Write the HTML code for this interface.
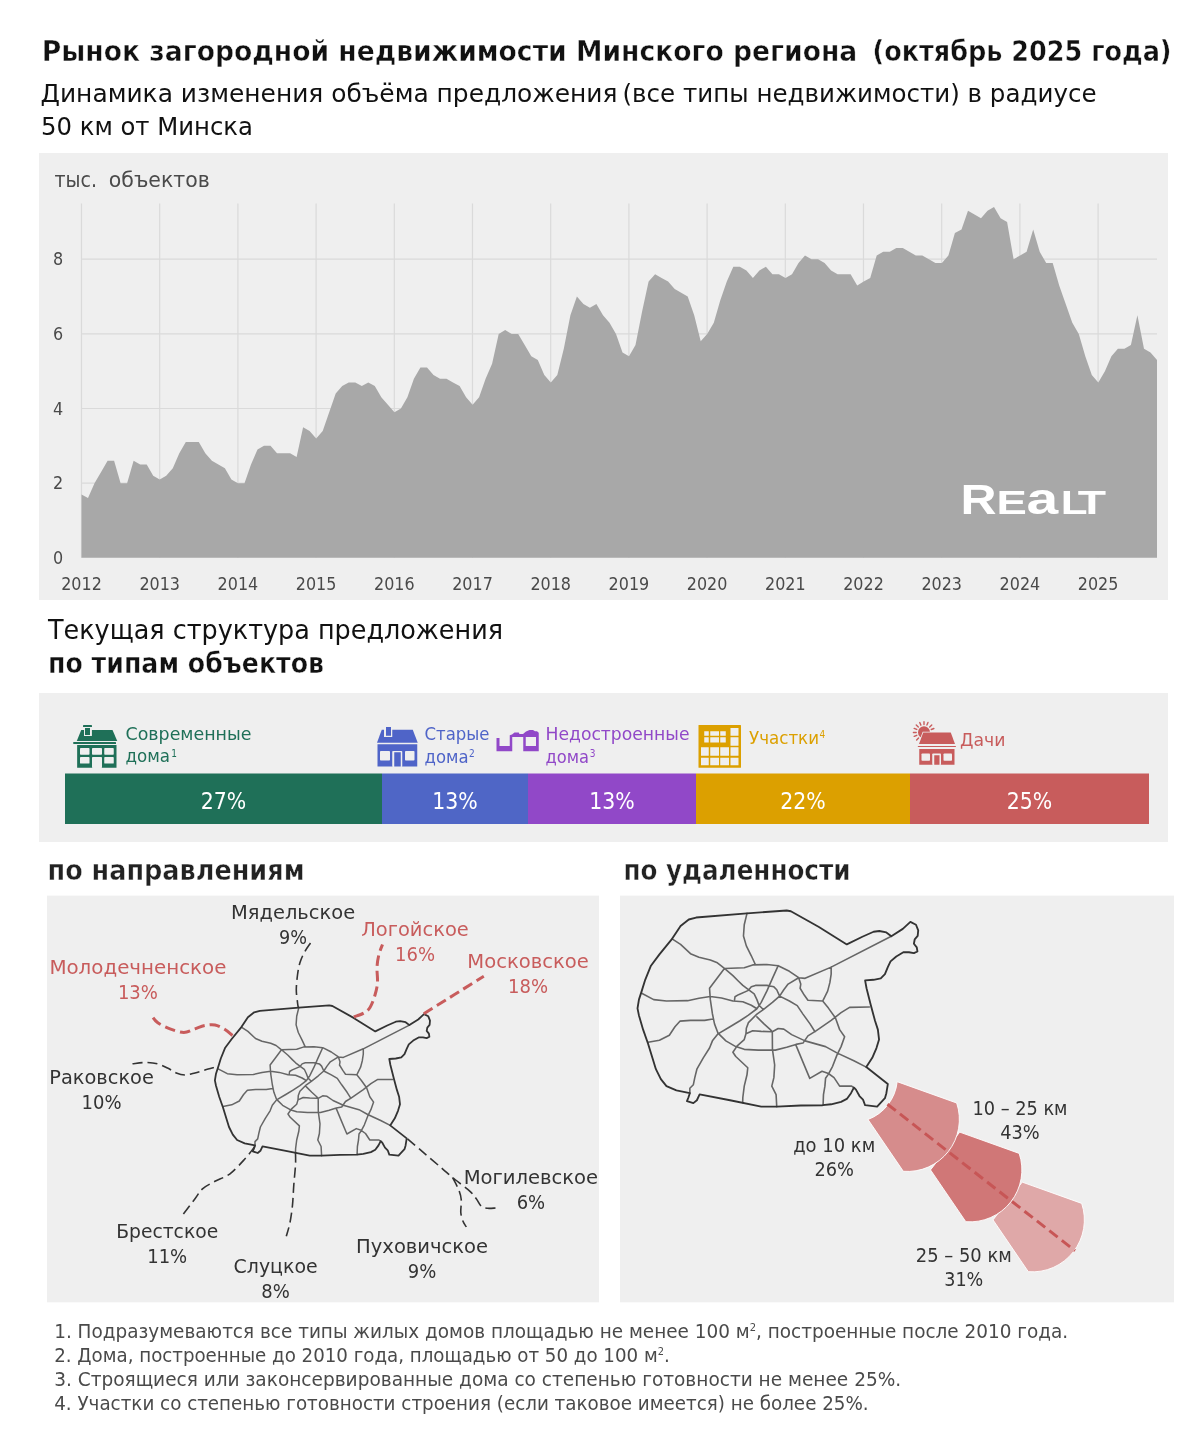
<!DOCTYPE html>
<html lang="ru"><head><meta charset="utf-8"><title>Рынок загородной недвижимости Минского региона</title>
<style>html,body{margin:0;padding:0;background:#fff}svg{display:block}</style></head>
<body>
<svg width="1200" height="1438" viewBox="0 0 1200 1438" font-family='&quot;DejaVu Sans Condensed&quot;, &quot;DejaVu Sans&quot;, &quot;Liberation Sans&quot;, sans-serif'>
<rect width="1200" height="1438" fill="#fff"/>
<text x="41.8" y="60.6" font-size="27.8" fill="#111" font-weight="bold" textLength="815.5" lengthAdjust="spacingAndGlyphs" stroke="#fff" stroke-width="0.4">Рынок загородной недвижимости Минского региона</text>
<text x="872.5" y="60.6" font-size="27.8" fill="#111" font-weight="bold" textLength="299" lengthAdjust="spacingAndGlyphs" stroke="#fff" stroke-width="0.4">(октябрь 2025 года)</text>
<text x="40.5" y="102" font-size="25.5" fill="#111" textLength="577" lengthAdjust="spacingAndGlyphs">Динамика изменения объёма предложения</text>
<text x="622.5" y="102" font-size="25.5" fill="#111" textLength="474" lengthAdjust="spacingAndGlyphs">(все типы недвижимости) в радиусе</text>
<text x="41" y="134.5" font-size="25.5" fill="#111" textLength="212" lengthAdjust="spacingAndGlyphs">50 км от Минска</text>
<rect x="39" y="153" width="1129" height="447" fill="#efefef"/>
<path d="M81.5 203.5V557.8 M159.7 203.5V557.8 M237.9 203.5V557.8 M316.1 203.5V557.8 M394.3 203.5V557.8 M472.5 203.5V557.8 M550.7 203.5V557.8 M628.9 203.5V557.8 M707.1 203.5V557.8 M785.3 203.5V557.8 M863.5 203.5V557.8 M941.7 203.5V557.8 M1019.9 203.5V557.8 M1098.1 203.5V557.8 M81.5 483.2H1157 M81.5 408.5H1157 M81.5 333.9H1157 M81.5 259.2H1157" stroke="#dadada" stroke-width="1.2" fill="none"/>
<path d="M81.5 557.8 L81.5 494.4 L88.0 498.1 L94.5 483.2 L101.1 472.0 L107.6 460.8 L114.1 460.8 L120.6 483.2 L127.1 483.2 L133.6 460.8 L140.2 464.5 L146.7 464.5 L153.2 475.7 L159.7 479.4 L166.2 475.7 L172.8 468.2 L179.3 453.3 L185.8 442.1 L192.3 442.1 L198.8 442.1 L205.3 453.3 L211.9 460.8 L218.4 464.5 L224.9 468.2 L231.4 479.4 L237.9 483.2 L244.5 483.2 L251.0 464.5 L257.5 449.6 L264.0 445.8 L270.5 445.8 L277.0 453.3 L283.6 453.3 L290.1 453.3 L296.6 457.0 L303.1 427.2 L309.6 430.9 L316.2 438.4 L322.7 430.9 L329.2 412.3 L335.7 393.6 L342.2 386.1 L348.7 382.4 L355.3 382.4 L361.8 386.1 L368.3 382.4 L374.8 386.1 L381.3 397.3 L387.9 404.8 L394.4 412.3 L400.9 408.5 L407.4 397.3 L413.9 378.7 L420.4 367.5 L427.0 367.5 L433.5 374.9 L440.0 378.7 L446.5 378.7 L453.0 382.4 L459.6 386.1 L466.1 397.3 L472.6 404.8 L479.1 397.3 L485.6 378.7 L492.1 363.7 L498.7 333.9 L505.2 330.1 L511.7 333.9 L518.2 333.9 L524.7 345.1 L531.3 356.3 L537.8 360.0 L544.3 374.9 L550.8 382.4 L557.3 374.9 L563.8 348.8 L570.4 315.2 L576.9 296.6 L583.4 304.0 L589.9 307.8 L596.4 304.0 L603.0 315.2 L609.5 322.7 L616.0 333.9 L622.5 352.5 L629.0 356.3 L635.5 345.1 L642.1 311.5 L648.6 281.6 L655.1 274.2 L661.6 277.9 L668.1 281.6 L674.7 289.1 L681.2 292.8 L687.7 296.6 L694.2 315.2 L700.7 341.3 L707.2 333.9 L713.8 322.7 L720.3 300.3 L726.8 281.6 L733.3 266.7 L739.8 266.7 L746.4 270.4 L752.9 277.9 L759.4 270.4 L765.9 266.7 L772.4 274.2 L778.9 274.2 L785.5 277.9 L792.0 274.2 L798.5 263.0 L805.0 255.5 L811.5 259.2 L818.1 259.2 L824.6 263.0 L831.1 270.4 L837.6 274.2 L844.1 274.2 L850.6 274.2 L857.2 285.4 L863.7 281.6 L870.2 277.9 L876.7 255.5 L883.2 251.8 L889.8 251.8 L896.3 248.0 L902.8 248.0 L909.3 251.8 L915.8 255.5 L922.3 255.5 L928.9 259.2 L935.4 263.0 L941.9 263.0 L948.4 255.5 L954.9 233.1 L961.5 229.4 L968.0 210.7 L974.5 214.5 L981.0 218.2 L987.5 210.7 L994.0 207.0 L1000.6 218.2 L1007.1 221.9 L1013.6 259.2 L1020.1 255.5 L1026.6 251.8 L1033.2 229.4 L1039.7 251.8 L1046.2 263.0 L1052.7 263.0 L1059.2 285.4 L1065.7 304.0 L1072.3 322.7 L1078.8 333.9 L1085.3 356.3 L1091.8 374.9 L1098.3 382.4 L1104.9 371.2 L1111.4 356.3 L1117.9 348.8 L1124.4 348.8 L1130.9 345.1 L1137.4 315.2 L1144.0 348.8 L1150.5 352.5 L1157.0 360.0 L1157.0 557.8Z" fill="#a8a8a8"/>
<text x="54.5" y="186.7" font-size="22" fill="#4a4a4a" textLength="42.5" lengthAdjust="spacingAndGlyphs">тыс.</text>
<text x="108.8" y="186.7" font-size="22" fill="#4a4a4a" textLength="101" lengthAdjust="spacingAndGlyphs">объектов</text>
<text x="53" y="563.9" font-size="17.8" fill="#4a4a4a">0</text>
<text x="53" y="489.26" font-size="17.8" fill="#4a4a4a">2</text>
<text x="53" y="414.62" font-size="17.8" fill="#4a4a4a">4</text>
<text x="53" y="339.97999999999996" font-size="17.8" fill="#4a4a4a">6</text>
<text x="53" y="265.34" font-size="17.8" fill="#4a4a4a">8</text>
<text x="81.5" y="590" font-size="17.8" fill="#4a4a4a" text-anchor="middle" textLength="40.6" lengthAdjust="spacingAndGlyphs">2012</text>
<text x="159.7" y="590" font-size="17.8" fill="#4a4a4a" text-anchor="middle" textLength="40.6" lengthAdjust="spacingAndGlyphs">2013</text>
<text x="237.9" y="590" font-size="17.8" fill="#4a4a4a" text-anchor="middle" textLength="40.6" lengthAdjust="spacingAndGlyphs">2014</text>
<text x="316.1" y="590" font-size="17.8" fill="#4a4a4a" text-anchor="middle" textLength="40.6" lengthAdjust="spacingAndGlyphs">2015</text>
<text x="394.3" y="590" font-size="17.8" fill="#4a4a4a" text-anchor="middle" textLength="40.6" lengthAdjust="spacingAndGlyphs">2016</text>
<text x="472.5" y="590" font-size="17.8" fill="#4a4a4a" text-anchor="middle" textLength="40.6" lengthAdjust="spacingAndGlyphs">2017</text>
<text x="550.7" y="590" font-size="17.8" fill="#4a4a4a" text-anchor="middle" textLength="40.6" lengthAdjust="spacingAndGlyphs">2018</text>
<text x="628.9" y="590" font-size="17.8" fill="#4a4a4a" text-anchor="middle" textLength="40.6" lengthAdjust="spacingAndGlyphs">2019</text>
<text x="707.1" y="590" font-size="17.8" fill="#4a4a4a" text-anchor="middle" textLength="40.6" lengthAdjust="spacingAndGlyphs">2020</text>
<text x="785.3000000000001" y="590" font-size="17.8" fill="#4a4a4a" text-anchor="middle" textLength="40.6" lengthAdjust="spacingAndGlyphs">2021</text>
<text x="863.5" y="590" font-size="17.8" fill="#4a4a4a" text-anchor="middle" textLength="40.6" lengthAdjust="spacingAndGlyphs">2022</text>
<text x="941.7" y="590" font-size="17.8" fill="#4a4a4a" text-anchor="middle" textLength="40.6" lengthAdjust="spacingAndGlyphs">2023</text>
<text x="1019.9000000000001" y="590" font-size="17.8" fill="#4a4a4a" text-anchor="middle" textLength="40.6" lengthAdjust="spacingAndGlyphs">2024</text>
<text x="1098.1" y="590" font-size="17.8" fill="#4a4a4a" text-anchor="middle" textLength="40.6" lengthAdjust="spacingAndGlyphs">2025</text>
<g fill="#fff" font-family="&quot;Liberation Sans&quot;, sans-serif" font-weight="bold">
<text transform="translate(960.6 514) scale(1.18 1)" font-size="42.3">R</text>
<text transform="translate(996.6 514) scale(1.4 1)" font-size="32.5">E</text>
<text transform="translate(1026.6 514) scale(1.31 1)" font-size="43.5">a</text>
<text transform="translate(1060.8 514) scale(1.35 1)" font-size="32.5">L</text>
<text transform="translate(1077.7 514) scale(1.425 1)" font-size="32.5">T</text>
</g>
<text x="48" y="639" font-size="26.5" fill="#111" textLength="455" lengthAdjust="spacingAndGlyphs">Текущая структура предложения</text>
<text x="48" y="672.8" font-size="27.6" fill="#111" font-weight="bold" textLength="276" lengthAdjust="spacingAndGlyphs" stroke="#fff" stroke-width="0.4">по типам объектов</text>
<rect x="39" y="693" width="1129" height="149" fill="#efefef"/>
<rect x="65" y="773.5" width="317" height="50.5" fill="#1f7058"/>
<text x="223.5" y="808.7" font-size="23" fill="#fff" text-anchor="middle" textLength="45.5" lengthAdjust="spacingAndGlyphs">27%</text>
<rect x="382" y="773.5" width="146" height="50.5" fill="#4f66c6"/>
<text x="455.0" y="808.7" font-size="23" fill="#fff" text-anchor="middle" textLength="45.5" lengthAdjust="spacingAndGlyphs">13%</text>
<rect x="528" y="773.5" width="168" height="50.5" fill="#9148c8"/>
<text x="612.0" y="808.7" font-size="23" fill="#fff" text-anchor="middle" textLength="45.5" lengthAdjust="spacingAndGlyphs">13%</text>
<rect x="696" y="773.5" width="214" height="50.5" fill="#dca000"/>
<text x="803.0" y="808.7" font-size="23" fill="#fff" text-anchor="middle" textLength="45.5" lengthAdjust="spacingAndGlyphs">22%</text>
<rect x="910" y="773.5" width="239" height="50.5" fill="#c85c5c"/>
<text x="1029.5" y="808.7" font-size="23" fill="#fff" text-anchor="middle" textLength="45.5" lengthAdjust="spacingAndGlyphs">25%</text>
<g>
<rect x="83" y="725" width="9" height="2" fill="#1f7058" rx="0.6"/>
<path d="M81.25 730H112.5L117.25 741H76.75Z" fill="#1f7058"/>
<rect x="84" y="727.6" width="7.9" height="8.4" fill="#efefef"/>
<rect x="85" y="728" width="5" height="7" fill="#1f7058"/>
<rect x="73.25" y="742" width="42.75" height="2" fill="#1f7058" rx="0.6"/>
<rect x="77.15" y="745" width="39.35" height="22.75" fill="#1f7058"/>
<rect x="80" y="748" width="9.5" height="6.75" fill="#efefef" rx="0.7"/>
<rect x="92" y="748" width="10" height="6.75" fill="#efefef" rx="0.7"/>
<rect x="104.25" y="748" width="9.5" height="6.75" fill="#efefef" rx="0.7"/>
<rect x="80" y="757" width="9.5" height="6.6" fill="#efefef" rx="0.7"/>
<rect x="104.25" y="757" width="9.5" height="6.6" fill="#efefef" rx="0.7"/>
<rect x="92" y="757" width="10" height="11" fill="#efefef" rx="0.7"/>
</g>
<g>
<path d="M381.75 729.75H412.75L417.75 742.75H377Z" fill="#4f64c8"/>
<rect x="384" y="726" width="8.25" height="11" fill="#efefef"/>
<rect x="386" y="727" width="5" height="8.75" fill="#4f64c8"/>
<rect x="377.5" y="744.25" width="39.75" height="22.25" fill="#4f64c8"/>
<rect x="380" y="751" width="10" height="9.5" fill="#efefef" rx="0.8"/>
<rect x="405" y="751" width="9.5" height="9.5" fill="#efefef" rx="0.8"/>
<rect x="392.25" y="751" width="10.0" height="16" fill="#efefef" rx="0.8"/>
<rect x="394.25" y="752.25" width="6.5" height="14.25" fill="#4f64c8"/>
</g>
<path fill-rule="evenodd" d="M496.5 738H499.5V746H509.75V735.25L512 734.5L514.5 732.5H518.75L519.5 734H523L526 731.5L529.5 730H533L535 731.25H537L538.75 732.75V751.25H523.25V737H512.25V751.25H496.5ZM525.75 737H536V746H525.75Z" fill="#9148c8"/>
<g>
<rect x="698.5" y="725" width="42.5" height="42.75" fill="#dca000" rx="0.6"/>
<rect x="701" y="747.25" width="7.75" height="8.5" fill="#efefef"/>
<rect x="701" y="757.75" width="7.75" height="7.5" fill="#efefef"/>
<rect x="710.25" y="747.25" width="8.75" height="8.5" fill="#efefef"/>
<rect x="710.25" y="757.75" width="8.75" height="7.5" fill="#efefef"/>
<rect x="720.25" y="747.25" width="8.75" height="8.5" fill="#efefef"/>
<rect x="720.25" y="757.75" width="8.75" height="7.5" fill="#efefef"/>
<rect x="730.5" y="747.25" width="8.0" height="8.5" fill="#efefef"/>
<rect x="730.5" y="757.75" width="8.0" height="7.5" fill="#efefef"/>
<rect x="730.5" y="728" width="8.0" height="7.75" fill="#efefef"/>
<rect x="730.5" y="737.25" width="8.0" height="8.5" fill="#efefef"/>
<rect x="704.25" y="731.25" width="4.5" height="4.5" fill="#efefef"/>
<rect x="704.25" y="737.25" width="4.5" height="5.25" fill="#efefef"/>
<rect x="710.25" y="731.25" width="8.75" height="4.5" fill="#efefef"/>
<rect x="710.25" y="737.25" width="8.75" height="5.25" fill="#efefef"/>
<rect x="720.25" y="731.25" width="5.5" height="4.5" fill="#efefef"/>
<rect x="720.25" y="737.25" width="5.5" height="5.25" fill="#efefef"/>
</g>
<g>
<circle cx="924" cy="732.3" r="6" fill="#c85c5c"/>
<path d="M918.58 737.91L916.64 739.93 M916.79 735.28L914.21 736.36 M916.20 732.44L913.40 732.48 M916.74 729.44L914.14 728.42 M918.30 726.98L916.25 725.07 M920.89 725.15L919.77 722.58 M924.00 724.50L924.00 721.70 M926.92 725.07L927.97 722.47 M929.70 726.98L931.75 725.07 M931.28 729.50L933.90 728.50" stroke="#c85c5c" stroke-width="1.4" stroke-linecap="round" fill="none"/>
<path d="M923.25 732.5H950.75L955 744H919Z" fill="#c85c5c" stroke="#efefef" stroke-width="1.6" paint-order="stroke"/>
<rect x="917.75" y="745.9" width="38.25" height="1.2" fill="#c85c5c" rx="0.6"/>
<rect x="919.25" y="749" width="35.25" height="15.75" fill="#c85c5c"/>
<rect x="921.5" y="753.5" width="8.5" height="7.25" fill="#efefef" rx="0.8"/>
<rect x="943.5" y="753.5" width="8.5" height="7.25" fill="#efefef" rx="0.8"/>
<rect x="932.25" y="753.5" width="8.75" height="11.5" fill="#efefef" rx="0.8"/>
<rect x="934.25" y="755.25" width="5.25" height="9.5" fill="#c85c5c"/>
</g>
<text x="125.5" y="740.2" font-size="18.2" fill="#1f7058" textLength="126" lengthAdjust="spacingAndGlyphs">Современные</text>
<text x="125.5" y="762" font-size="18.2" fill="#1f7058" textLength="44.5" lengthAdjust="spacingAndGlyphs">дома</text>
<text x="171.3" y="756.6" font-size="10" fill="#1f7058">1</text>
<text x="424.5" y="739.5" font-size="18.2" fill="#4f64c8" textLength="65" lengthAdjust="spacingAndGlyphs">Старые</text>
<text x="424.5" y="762.5" font-size="18.2" fill="#4f64c8" textLength="44" lengthAdjust="spacingAndGlyphs">дома</text>
<text x="469" y="757" font-size="10" fill="#4f64c8">2</text>
<text x="545.5" y="739.5" font-size="18.2" fill="#9148c8" textLength="144" lengthAdjust="spacingAndGlyphs">Недостроенные</text>
<text x="545.5" y="762.5" font-size="18.2" fill="#9148c8" textLength="43.5" lengthAdjust="spacingAndGlyphs">дома</text>
<text x="589.8" y="757" font-size="10" fill="#9148c8">3</text>
<text x="749" y="743.7" font-size="18.2" fill="#dca000" textLength="70" lengthAdjust="spacingAndGlyphs">Участки</text>
<text x="819.6" y="738.2" font-size="10" fill="#dca000">4</text>
<text x="960" y="746" font-size="18.2" fill="#c85c5c" textLength="45.5" lengthAdjust="spacingAndGlyphs">Дачи</text>
<text x="47.5" y="879.5" font-size="27.6" fill="#222" font-weight="bold" textLength="257" lengthAdjust="spacingAndGlyphs" stroke="#fff" stroke-width="0.4">по направлениям</text>
<text x="623.5" y="879.5" font-size="27.6" fill="#222" font-weight="bold" textLength="227" lengthAdjust="spacingAndGlyphs" stroke="#fff" stroke-width="0.4">по удаленности</text>
<rect x="47" y="895.6" width="552" height="406.7" fill="#efefef"/>
<rect x="620" y="895.6" width="554" height="406.7" fill="#efefef"/>
<g fill="none" stroke-linejoin="round" stroke-linecap="round">
<path d="M241.4 1027.1 L247.9 1031.4 L255.5 1038.5 L262.0 1041.2 L270.7 1043.3 L276.1 1045.5 L281.5 1049.8 L288.0 1055.3 L292.3 1059.6 L295.6 1062.8 L299.9 1066.1 L304.3 1069.3 L306.4 1073.7 L308.0 1078.0 L311.3 1081.3 M298.8 1007.6 L296.7 1016.3 L296.1 1024.9 L298.3 1032.5 L302.1 1040.1 L305.1 1046.6 M281.5 1049.8 L296.7 1049.3 L303.2 1047.1 L314.0 1046.8 L322.7 1047.7 L331.3 1052.0 L338.4 1056.9 L340.0 1061.8 L339.5 1065.0 L342.8 1070.4 L345.5 1074.2 L356.8 1074.8 L361.2 1080.2 L366.6 1087.8 L369.8 1096.7 L373.6 1102.1 L370.9 1109.7 L367.7 1116.2 L364.4 1124.8 L361.2 1130.8 L359.0 1134.0 L358.5 1140.0 L357.4 1146.5 L357.1 1154.6 M281.5 1049.8 L275.0 1058.5 L270.1 1065.0 L270.7 1073.7 L272.3 1084.5 L273.9 1092.3 L276.6 1099.4 L282.6 1105.3 L290.2 1109.7 L296.7 1111.8 L307.5 1112.4 L320.5 1112.4 L329.2 1110.2 L336.3 1108.0 L341.7 1107.0 L345.5 1101.5 L351.4 1097.8 L363.3 1089.6 L370.9 1083.7 L377.4 1079.6 L392.6 1079.4 M218.1 1068.8 L227.3 1073.7 L237.1 1074.8 L253.3 1074.5 L262.0 1072.6 L270.7 1071.3 L279.3 1072.4 L288.0 1074.8 L295.6 1075.3 L302.1 1078.0 L306.4 1080.7 M289.1 1074.8 L289.6 1071.5 L292.3 1069.9 L299.9 1066.6 L302.1 1063.9 L305.3 1062.8 L314.0 1062.8 L319.4 1063.9 L321.6 1066.1 L323.8 1071.0 M322.7 1047.7 L318.3 1057.4 L314.0 1067.2 L309.7 1075.8 L306.4 1080.7 L299.9 1085.6 L293.4 1089.9 L285.8 1094.5 L276.6 1099.9 L272.3 1105.3 L270.1 1110.8 L265.3 1118.3 L260.4 1127.0 L258.8 1133.5 L257.7 1138.9 L255.0 1141.6 L255.0 1145.4 M409.4 1025.1 L363.3 1048.8 L343.3 1057.4 L338.4 1056.9 L330.3 1061.8 L327.0 1066.1 L323.8 1071.0 L318.3 1075.8 L311.3 1081.3 L306.4 1084.8 L299.9 1091.3 L298.3 1095.6 L298.0 1099.9 L296.7 1104.3 L291.3 1109.1 L288.0 1114.0 L290.2 1117.3 L299.4 1125.9 L298.8 1131.3 L296.7 1140.0 L295.6 1148.7 L295.5 1152.8 M323.8 1071.0 L331.3 1074.8 L337.3 1078.3 L341.7 1084.8 L347.1 1092.3 L350.9 1098.3 M363.3 1048.8 L363.3 1054.2 L362.3 1060.7 L360.6 1067.2 L356.8 1074.8 M223.0 1106.4 L231.7 1104.8 L239.3 1101.0 L243.6 1094.5 L247.4 1090.2 L255.5 1089.6 L266.3 1089.6 L272.6 1088.5 M306.4 1086.9 L311.8 1092.3 L316.7 1096.7 L318.2 1098.3 L318.3 1111.8 L320.0 1123.8 L319.4 1133.5 L317.8 1140.0 L321.1 1146.5 L321.6 1155.7 M298.0 1099.9 L303.2 1097.5 L309.7 1098.0 L318.2 1098.3 L322.7 1095.8 L327.0 1096.3 L333.0 1100.5 L343.3 1105.3 L359.0 1109.7 L367.7 1114.5 L380.7 1120.5 L390.2 1125.4 M336.3 1108.6 L341.7 1121.6 L346.9 1134.0 L356.3 1128.6 L361.2 1130.3 L365.5 1133.5 L369.8 1140.0 L379.0 1140.0 L381.2 1141.6" stroke="#666" stroke-width="1.5"/>
<path d="M254.2 1012.3 L259.8 1010.8 L298.8 1007.6 L329.2 1005.4 L332.4 1006.0 L353.6 1017.9 L375.3 1031.4 L387.2 1025.5 L395.8 1021.7 L400.2 1021.1 L405.6 1022.2 L409.4 1025.1 L418.2 1019.5 L424.0 1014.1 L428.3 1016.3 L430.0 1020.6 L429.6 1024.9 L427.3 1027.6 L426.7 1030.9 L428.9 1033.6 L429.4 1036.8 L426.7 1038.1 L422.9 1037.4 L418.6 1037.4 L413.2 1040.6 L408.8 1044.4 L406.7 1048.8 L404.5 1054.2 L401.3 1057.4 L395.8 1058.5 L389.3 1059.0 L390.4 1065.0 L393.7 1078.0 L396.9 1089.9 L399.1 1096.7 L400.0 1104.3 L398.0 1110.8 L394.8 1118.3 L390.2 1125.4 L406.7 1138.4 L405.6 1145.4 L404.5 1149.2 L398.5 1155.7 L389.3 1154.6 L387.7 1150.3 L385.0 1147.6 L382.3 1142.7 L380.7 1141.1 L378.5 1145.4 L375.3 1149.8 L370.9 1152.1 L363.3 1153.9 L356.8 1154.6 L340.0 1154.8 L321.6 1155.7 L309.7 1155.7 L285.8 1150.8 L262.5 1146.3 L260.4 1150.8 L257.7 1153.0 L252.8 1151.4 L253.9 1148.7 L255.0 1145.4 L244.7 1143.3 L237.1 1140.0 L232.8 1134.6 L229.0 1127.0 L226.3 1118.3 L223.0 1107.5 L219.2 1096.7 L216.0 1085.8 L214.9 1080.4 L216.0 1073.7 L218.1 1067.2 L220.8 1058.5 L225.2 1047.7 L231.7 1039.0 L241.4 1027.1 L247.9 1017.3Z" stroke="#333" stroke-width="1.8"/>
</g>
<path d="M310.5 943.0C309.6 944.4 306.8 948.0 305.0 951.3C303.2 954.5 301.2 958.5 300.0 962.5C298.8 966.5 298.1 970.4 297.5 975.0C296.9 979.6 296.3 985.4 296.3 990.0C296.3 994.6 297.2 999.6 297.5 1002.5C297.8 1005.4 298.2 1006.7 298.3 1007.5 M132.5 1063.8C134.6 1063.6 140.8 1062.5 145.0 1062.5C149.2 1062.5 153.8 1062.9 157.5 1063.8C161.2 1064.7 164.4 1066.5 167.5 1068.0C170.6 1069.5 173.4 1071.8 176.3 1073.0C179.2 1074.2 181.9 1075.0 185.0 1075.0C188.1 1075.0 191.7 1073.8 195.0 1073.0C198.3 1072.2 201.5 1071.0 205.0 1070.0C208.5 1069.0 214.2 1067.5 216.0 1067.0 M255.0 1146.3C253.3 1148.4 249.2 1154.2 245.0 1158.8C240.8 1163.4 235.0 1170.0 230.0 1173.8C225.0 1177.5 219.6 1178.8 215.0 1181.3C210.4 1183.8 205.8 1185.9 202.5 1188.8C199.2 1191.7 198.4 1194.3 195.0 1198.8C191.6 1203.3 184.2 1213.0 182.0 1215.8 M295.5 1152.8C295.5 1154.8 295.8 1159.6 295.5 1165.0C295.2 1170.4 294.3 1178.3 293.8 1185.0C293.3 1191.7 293.1 1198.8 292.5 1205.0C291.9 1211.2 291.0 1217.3 290.0 1222.5C289.0 1227.7 286.9 1234.0 286.3 1236.3 M407.5 1138.8C410.4 1141.3 419.2 1148.8 425.0 1153.8C430.8 1158.8 437.5 1164.5 442.5 1168.8C447.5 1173.1 450.4 1175.8 455.0 1179.5C459.6 1183.2 466.4 1188.1 470.0 1191.3C473.6 1194.5 474.4 1196.3 476.3 1198.8C478.2 1201.3 479.4 1204.7 481.3 1206.3C483.2 1207.9 485.0 1208.0 487.5 1208.3C490.0 1208.6 494.8 1208.0 496.3 1208.0 M452.5 1177.5C453.6 1179.6 457.3 1186.2 458.8 1190.0C460.3 1193.8 461.0 1196.2 461.3 1200.0C461.6 1203.8 460.5 1209.0 460.8 1212.5C461.1 1216.0 462.1 1218.9 463.0 1221.3C463.9 1223.7 465.8 1226.0 466.3 1227.0" fill="none" stroke="#333" stroke-width="1.6" stroke-dasharray="10 5"/>
<path d="M232.5 1035.5C231.2 1034.5 227.9 1031.2 225.0 1029.5C222.1 1027.8 218.3 1025.7 215.0 1025.0C211.7 1024.3 208.3 1024.9 205.0 1025.5C201.7 1026.1 198.5 1027.6 195.0 1028.8C191.5 1030.0 188.0 1032.5 183.8 1032.5C179.6 1032.5 174.4 1030.5 170.0 1028.8C165.6 1027.1 160.6 1024.8 157.5 1022.5C154.4 1020.2 152.3 1016.2 151.3 1015.0 M353.8 1017.0C355.5 1016.3 361.1 1014.6 363.8 1013.0C366.5 1011.4 368.1 1010.5 370.0 1007.5C371.9 1004.5 373.8 999.2 375.0 995.0C376.2 990.8 377.2 987.1 377.5 982.5C377.8 977.9 376.8 972.1 377.0 967.5C377.2 962.9 377.9 958.8 378.8 955.0C379.7 951.2 381.9 946.2 382.5 944.5 M423.8 1013.8C433.8 1007.5 473.8 982.5 483.8 976.3" fill="none" stroke="#c85c5c" stroke-width="3" stroke-dasharray="10.5 5"/>
<text x="293.1" y="918.8" font-size="20.3" fill="#333" text-anchor="middle" textLength="124" lengthAdjust="spacingAndGlyphs">Мядельское</text>
<text x="293.1" y="943.8" font-size="20.3" fill="#333" text-anchor="middle" textLength="28" lengthAdjust="spacingAndGlyphs">9%</text>
<text x="415" y="936.3" font-size="20.3" fill="#c85c5c" text-anchor="middle" textLength="107.5" lengthAdjust="spacingAndGlyphs">Логойское</text>
<text x="415" y="961.3" font-size="20.3" fill="#c85c5c" text-anchor="middle" textLength="40" lengthAdjust="spacingAndGlyphs">16%</text>
<text x="528.1" y="968.3" font-size="20.3" fill="#c85c5c" text-anchor="middle" textLength="121.5" lengthAdjust="spacingAndGlyphs">Московское</text>
<text x="528.1" y="993.3" font-size="20.3" fill="#c85c5c" text-anchor="middle" textLength="40" lengthAdjust="spacingAndGlyphs">18%</text>
<text x="137.9" y="974.3" font-size="20.3" fill="#c85c5c" text-anchor="middle" textLength="177" lengthAdjust="spacingAndGlyphs">Молодечненское</text>
<text x="137.9" y="999.3" font-size="20.3" fill="#c85c5c" text-anchor="middle" textLength="40" lengthAdjust="spacingAndGlyphs">13%</text>
<text x="101.6" y="1083.8" font-size="20.3" fill="#333" text-anchor="middle" textLength="104.5" lengthAdjust="spacingAndGlyphs">Раковское</text>
<text x="101.6" y="1108.8" font-size="20.3" fill="#333" text-anchor="middle" textLength="40" lengthAdjust="spacingAndGlyphs">10%</text>
<text x="167.2" y="1237.5" font-size="20.3" fill="#333" text-anchor="middle" textLength="102" lengthAdjust="spacingAndGlyphs">Брестское</text>
<text x="167.2" y="1262.5" font-size="20.3" fill="#333" text-anchor="middle" textLength="40" lengthAdjust="spacingAndGlyphs">11%</text>
<text x="275.6" y="1273.2" font-size="20.3" fill="#333" text-anchor="middle" textLength="84" lengthAdjust="spacingAndGlyphs">Слуцкое</text>
<text x="275.6" y="1298.2" font-size="20.3" fill="#333" text-anchor="middle" textLength="28.5" lengthAdjust="spacingAndGlyphs">8%</text>
<text x="422.1" y="1253" font-size="20.3" fill="#333" text-anchor="middle" textLength="132" lengthAdjust="spacingAndGlyphs">Пуховичское</text>
<text x="422.1" y="1278" font-size="20.3" fill="#333" text-anchor="middle" textLength="28.5" lengthAdjust="spacingAndGlyphs">9%</text>
<text x="530.9" y="1184.3" font-size="20.3" fill="#333" text-anchor="middle" textLength="134.5" lengthAdjust="spacingAndGlyphs">Могилевское</text>
<text x="530.9" y="1209.3" font-size="20.3" fill="#333" text-anchor="middle" textLength="28.5" lengthAdjust="spacingAndGlyphs">6%</text>
<g transform="translate(357.06 -401.55) scale(1.305)">
<g fill="none" stroke-linejoin="round" stroke-linecap="round">
<path d="M241.4 1027.1 L247.9 1031.4 L255.5 1038.5 L262.0 1041.2 L270.7 1043.3 L276.1 1045.5 L281.5 1049.8 L288.0 1055.3 L292.3 1059.6 L295.6 1062.8 L299.9 1066.1 L304.3 1069.3 L306.4 1073.7 L308.0 1078.0 L311.3 1081.3 M298.8 1007.6 L296.7 1016.3 L296.1 1024.9 L298.3 1032.5 L302.1 1040.1 L305.1 1046.6 M281.5 1049.8 L296.7 1049.3 L303.2 1047.1 L314.0 1046.8 L322.7 1047.7 L331.3 1052.0 L338.4 1056.9 L340.0 1061.8 L339.5 1065.0 L342.8 1070.4 L345.5 1074.2 L356.8 1074.8 L361.2 1080.2 L366.6 1087.8 L369.8 1096.7 L373.6 1102.1 L370.9 1109.7 L367.7 1116.2 L364.4 1124.8 L361.2 1130.8 L359.0 1134.0 L358.5 1140.0 L357.4 1146.5 L357.1 1154.6 M281.5 1049.8 L275.0 1058.5 L270.1 1065.0 L270.7 1073.7 L272.3 1084.5 L273.9 1092.3 L276.6 1099.4 L282.6 1105.3 L290.2 1109.7 L296.7 1111.8 L307.5 1112.4 L320.5 1112.4 L329.2 1110.2 L336.3 1108.0 L341.7 1107.0 L345.5 1101.5 L351.4 1097.8 L363.3 1089.6 L370.9 1083.7 L377.4 1079.6 L392.6 1079.4 M218.1 1068.8 L227.3 1073.7 L237.1 1074.8 L253.3 1074.5 L262.0 1072.6 L270.7 1071.3 L279.3 1072.4 L288.0 1074.8 L295.6 1075.3 L302.1 1078.0 L306.4 1080.7 M289.1 1074.8 L289.6 1071.5 L292.3 1069.9 L299.9 1066.6 L302.1 1063.9 L305.3 1062.8 L314.0 1062.8 L319.4 1063.9 L321.6 1066.1 L323.8 1071.0 M322.7 1047.7 L318.3 1057.4 L314.0 1067.2 L309.7 1075.8 L306.4 1080.7 L299.9 1085.6 L293.4 1089.9 L285.8 1094.5 L276.6 1099.9 L272.3 1105.3 L270.1 1110.8 L265.3 1118.3 L260.4 1127.0 L258.8 1133.5 L257.7 1138.9 L255.0 1141.6 L255.0 1145.4 M409.4 1025.1 L363.3 1048.8 L343.3 1057.4 L338.4 1056.9 L330.3 1061.8 L327.0 1066.1 L323.8 1071.0 L318.3 1075.8 L311.3 1081.3 L306.4 1084.8 L299.9 1091.3 L298.3 1095.6 L298.0 1099.9 L296.7 1104.3 L291.3 1109.1 L288.0 1114.0 L290.2 1117.3 L299.4 1125.9 L298.8 1131.3 L296.7 1140.0 L295.6 1148.7 L295.5 1152.8 M323.8 1071.0 L331.3 1074.8 L337.3 1078.3 L341.7 1084.8 L347.1 1092.3 L350.9 1098.3 M363.3 1048.8 L363.3 1054.2 L362.3 1060.7 L360.6 1067.2 L356.8 1074.8 M223.0 1106.4 L231.7 1104.8 L239.3 1101.0 L243.6 1094.5 L247.4 1090.2 L255.5 1089.6 L266.3 1089.6 L272.6 1088.5 M306.4 1086.9 L311.8 1092.3 L316.7 1096.7 L318.2 1098.3 L318.3 1111.8 L320.0 1123.8 L319.4 1133.5 L317.8 1140.0 L321.1 1146.5 L321.6 1155.7 M298.0 1099.9 L303.2 1097.5 L309.7 1098.0 L318.2 1098.3 L322.7 1095.8 L327.0 1096.3 L333.0 1100.5 L343.3 1105.3 L359.0 1109.7 L367.7 1114.5 L380.7 1120.5 L390.2 1125.4 M336.3 1108.6 L341.7 1121.6 L346.9 1134.0 L356.3 1128.6 L361.2 1130.3 L365.5 1133.5 L369.8 1140.0 L379.0 1140.0 L381.2 1141.6" stroke="#666" stroke-width="1.226"/>
<path d="M254.2 1012.3 L259.8 1010.8 L298.8 1007.6 L329.2 1005.4 L332.4 1006.0 L353.6 1017.9 L375.3 1031.4 L387.2 1025.5 L395.8 1021.7 L400.2 1021.1 L405.6 1022.2 L409.4 1025.1 L418.2 1019.5 L424.0 1014.1 L428.3 1016.3 L430.0 1020.6 L429.6 1024.9 L427.3 1027.6 L426.7 1030.9 L428.9 1033.6 L429.4 1036.8 L426.7 1038.1 L422.9 1037.4 L418.6 1037.4 L413.2 1040.6 L408.8 1044.4 L406.7 1048.8 L404.5 1054.2 L401.3 1057.4 L395.8 1058.5 L389.3 1059.0 L390.4 1065.0 L393.7 1078.0 L396.9 1089.9 L399.1 1096.7 L400.0 1104.3 L398.0 1110.8 L394.8 1118.3 L390.2 1125.4 L406.7 1138.4 L405.6 1145.4 L404.5 1149.2 L398.5 1155.7 L389.3 1154.6 L387.7 1150.3 L385.0 1147.6 L382.3 1142.7 L380.7 1141.1 L378.5 1145.4 L375.3 1149.8 L370.9 1152.1 L363.3 1153.9 L356.8 1154.6 L340.0 1154.8 L321.6 1155.7 L309.7 1155.7 L285.8 1150.8 L262.5 1146.3 L260.4 1150.8 L257.7 1153.0 L252.8 1151.4 L253.9 1148.7 L255.0 1145.4 L244.7 1143.3 L237.1 1140.0 L232.8 1134.6 L229.0 1127.0 L226.3 1118.3 L223.0 1107.5 L219.2 1096.7 L216.0 1085.8 L214.9 1080.4 L216.0 1073.7 L218.1 1067.2 L220.8 1058.5 L225.2 1047.7 L231.7 1039.0 L241.4 1027.1 L247.9 1017.3Z" stroke="#333" stroke-width="1.418"/>
</g>
</g>
<path d="M1022.2 1182.1L1081.7 1203.4A52 52 0 0 1 1028.3 1271.7L993.0 1219.9Z" fill="#dfa8a8" stroke="#fff" stroke-width="0.9"/>
<path d="M959.7 1132.1L1019.2 1153.4A52 52 0 0 1 965.8 1221.7L930.5 1169.9Z" fill="#d07777" stroke="#fff" stroke-width="0.9"/>
<path d="M897.2 1081.7L956.7 1103.0A52 52 0 0 1 903.3 1171.3L868.0 1119.5A45.6 45.6 0 0 0 897.2 1081.7Z" fill="#d68c8c" stroke="#fff" stroke-width="0.9"/>
<path d="M887.5 1104.2L1075 1250.7" stroke="#c75656" stroke-width="3" stroke-dasharray="10.5 5.3" fill="none"/>
<text x="1020" y="1115" font-size="20.3" fill="#333" text-anchor="middle" textLength="95" lengthAdjust="spacingAndGlyphs">10 – 25 км</text>
<text x="1020" y="1139.3" font-size="20.3" fill="#333" text-anchor="middle" textLength="39.5" lengthAdjust="spacingAndGlyphs">43%</text>
<text x="834.2" y="1152.3" font-size="20.3" fill="#333" text-anchor="middle" textLength="82" lengthAdjust="spacingAndGlyphs">до 10 км</text>
<text x="834.2" y="1175.7" font-size="20.3" fill="#333" text-anchor="middle" textLength="39.5" lengthAdjust="spacingAndGlyphs">26%</text>
<text x="963.8" y="1262.3" font-size="20.3" fill="#333" text-anchor="middle" textLength="96" lengthAdjust="spacingAndGlyphs">25 – 50 км</text>
<text x="963.8" y="1286" font-size="20.3" fill="#333" text-anchor="middle" textLength="39" lengthAdjust="spacingAndGlyphs">31%</text>
<text x="54.2" y="1338" font-size="19.5" fill="#4a4a4a" textLength="1014" lengthAdjust="spacingAndGlyphs">1. Подразумеваются все типы жилых домов площадью не менее 100 м<tspan font-size="10.5" dy="-7.5">2</tspan><tspan dy="7.5">, построенные после 2010 года.</tspan></text>
<text x="54.2" y="1362" font-size="19.5" fill="#4a4a4a" textLength="615.5" lengthAdjust="spacingAndGlyphs">2. Дома, построенные до 2010 года, площадью от 50 до 100 м<tspan font-size="10.5" dy="-7.5">2</tspan><tspan dy="7.5">.</tspan></text>
<text x="54.2" y="1386" font-size="19.5" fill="#4a4a4a" textLength="847" lengthAdjust="spacingAndGlyphs">3. Строящиеся или законсервированные дома со степенью готовности не менее 25%.</text>
<text x="54.2" y="1410" font-size="19.5" fill="#4a4a4a" textLength="814.5" lengthAdjust="spacingAndGlyphs">4. Участки со степенью готовности строения (если таковое имеется) не более 25%.</text>
</svg>
</body></html>
